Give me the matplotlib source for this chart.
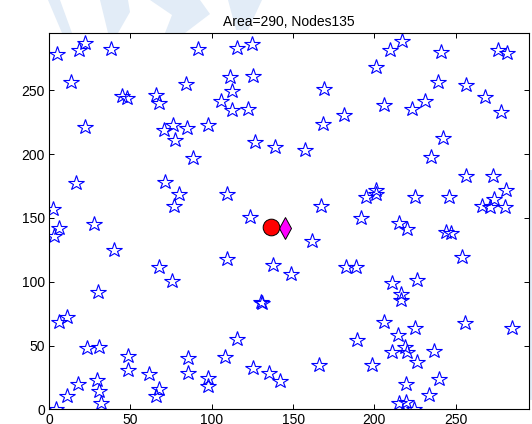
import matplotlib.pyplot as plt
from matplotlib.patches import Polygon

plt.rcParams['font.family'] = ['Liberation Sans', 'DejaVu Sans']

area = 290
node_x = [5.1, 18.2, 22.1, 37.8, 13.3, 44.6, 48.0, 66.0, 67.6, 84.0,
          91.4, 115.5, 124.6, 111.4, 125.3, 112.4, 105.5, 112.7, 122.1, 22.3,
          70.9, 76.2, 77.7, 84.8, 97.9, 126.5, 88.4, 16.4, 71.5, 79.7,
          77.0, 2.3, 6.3, 3.0, 27.8, 40.2, 109.6, 123.5, 109.6, 67.5,
          75.8, 4.0, 10.8, 18.0, 6.2, 11.2, 30.4, 23.6, 30.6, 29.2,
          31.0, 31.9, 48.8, 48.8, 61.5, 67.6, 65.8, 85.5, 85.5, 97.5,
          97.8, 107.9, 115.5, 125.3, 130.4, 131.0, 135.3, 142.2, 137.5, 148.7,
          161.6, 166.2, 138.7, 157.5, 169.3, 168.6, 181.5, 201.0, 209.6, 217.0,
          205.8, 222.9, 231.0, 240.8, 239.2, 256.5, 267.7, 277.8, 275.7, 281.6,
          242.1, 235.0, 256.1, 272.9, 280.6, 273.5, 266.1, 270.9, 280.4, 246.0,
          225.2, 200.9, 201.1, 194.6, 167.3, 191.5, 215.2, 220.2, 243.8, 247.2,
          253.6, 182.7, 188.5, 211.1, 226.4, 216.2, 216.2, 206.0, 214.2, 225.2,
          255.9, 284.7, 189.0, 211.1, 218.5, 220.3, 226.2, 236.7, 198.3, 219.3,
          239.7, 233.6, 215.2, 219.2, 224.2]
node_y = [278.8, 281.4, 287.4, 282.7, 256.3, 245.6, 244.0, 246.1, 240.1, 255.3,
          282.1, 283.0, 286.1, 260.8, 261.6, 249.5, 241.5, 234.4, 235.5, 221.3,
          218.7, 222.6, 211.4, 220.5, 222.6, 209.6, 197.0, 177.3, 178.0, 169.1,
          159.7, 157.2, 142.3, 135.8, 145.0, 124.5, 169.1, 151.0, 118.2, 111.7,
          100.2, 0.0, 10.8, 20.0, 68.4, 72.2, 92.1, 48.2, 49.0, 23.0,
          14.6, 4.7, 42.0, 30.5, 27.8, 16.1, 10.8, 39.9, 28.5, 24.3,
          18.0, 41.2, 54.8, 32.0, 84.3, 83.0, 28.7, 22.4, 113.0, 106.3,
          132.3, 34.7, 205.7, 203.5, 251.4, 223.4, 230.5, 268.3, 281.4, 289.0,
          238.3, 235.7, 241.4, 280.0, 256.3, 254.0, 244.5, 233.0, 281.4, 279.4,
          213.0, 198.1, 182.5, 183.2, 171.7, 164.8, 159.2, 158.7, 158.7, 166.2,
          166.2, 172.0, 168.5, 166.3, 159.2, 150.0, 146.2, 141.3, 139.1, 138.0,
          119.5, 111.7, 111.5, 98.9, 101.3, 90.2, 85.6, 68.6, 57.9, 63.4,
          67.3, 64.0, 54.3, 45.1, 49.0, 45.1, 36.9, 45.7, 34.7, 20.1,
          23.5, 11.2, 5.0, 5.5, 0.5]
sink = (136.7, 143.0)
agent = (145.3, 142.5)

fig = plt.figure(figsize=(5.32, 4.24), dpi=100)

# pale watermark behind everything
wm = '#e2ecf7'
for pts in [[(48, 0), (60, 0), (72, 33), (62, 33)],
            [(100, 0), (128, 0), (130, 12), (118, 33), (108, 33)],
            [(150, 0), (200, 0), (210, 14), (185, 33), (165, 33), (172, 15)],
            [(228, 0), (262, 0), (248, 30), (236, 30)],
            [(529, 170), (532, 170), (532, 400), (529, 400)]]:
    fig.patches.append(Polygon([(x / 532, 1 - y / 424) for x, y in pts],
                               closed=True, transform=fig.transFigure,
                               facecolor=wm, edgecolor='none', zorder=-5))

ax = fig.add_axes([0.0921, 0.0347, 0.9023, 0.8875])
ax.plot(node_x, node_y, linestyle='none', marker='*', markersize=11.5,
        markerfacecolor='none', markeredgecolor='blue', markeredgewidth=0.8)
ax.plot(agent[0], agent[1], marker='d', markersize=11, markerfacecolor='magenta',
        markeredgecolor='black', markeredgewidth=0.7)
ax.plot(sink[0], sink[1], marker='o', markersize=12, markerfacecolor='red',
        markeredgecolor='black', markeredgewidth=0.7)

ax.set_xlim(0, 295)
ax.set_ylim(0, 295)
ax.set_xticks(range(0, 300, 50))
ax.set_yticks(range(0, 300, 50))
ax.tick_params(direction='in', length=3.5, width=0.7, top=True, right=True,
               labelsize=10, pad=3)
for s in ax.spines.values():
    s.set_linewidth(0.8)
ax.set_title('Area=%d, Nodes%d' % (area, len(node_x)), fontsize=10, pad=5,
             zorder=10)

fig.savefig('out.png', dpi=100)
